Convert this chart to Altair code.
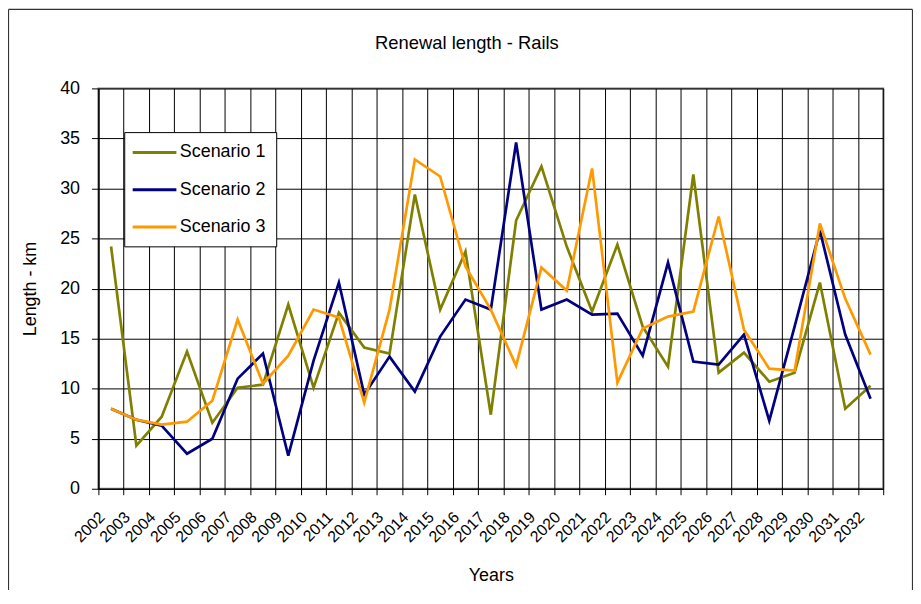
import altair as alt
import pandas as pd

years = [str(y) for y in range(2002, 2033)]
scenario1 = [24.2, 4.3, 7.2, 13.7, 6.6, 10.1, 10.4, 18.4, 10.1, 17.6, 14.1, 13.5, 29.4, 17.9, 23.7, 7.4,
             26.8, 32.2, 24.2, 17.7, 24.4, 16.2, 12.2, 31.4, 11.6, 13.6, 10.7, 11.6, 20.6, 8.0, 10.3]
scenario2 = [8.0, 6.9, 6.3, 3.5, 5.0, 11.0, 13.5, 3.3, 12.8, 20.6, 9.4, 13.2, 9.7, 15.2, 18.9, 17.9,
             34.6, 17.9, 18.9, 17.4, 17.5, 13.3, 22.6, 12.7, 12.4, 15.4, 6.8, 16.2, 25.8, 15.4, 9.0]
scenario3 = [8.0, 6.9, 6.4, 6.7, 8.8, 16.9, 10.5, 13.3, 17.9, 17.1, 8.6, 17.9, 32.9, 31.2, 22.2, 17.9,
             12.3, 22.1, 19.8, 32.0, 10.6, 16.0, 17.2, 17.7, 27.2, 15.9, 12.0, 11.8, 26.5, 19.0, 13.4]
series_names = ["Scenario 1", "Scenario 2", "Scenario 3"]
series_colors = ["#808000", "#000080", "#FF9900"]

rows = []
for name, vals in zip(series_names, [scenario1, scenario2, scenario3]):
    for yr, v in zip(years, vals):
        rows.append({"Year": yr, "Length": v, "Series": name})
df = pd.DataFrame(rows)

FONT = "Liberation Sans"

lines = alt.Chart(df).mark_line(strokeWidth=2.7).encode(
    x=alt.X("Year:O", sort=years,
            scale=alt.Scale(type="band", paddingInner=0, paddingOuter=0),
            axis=alt.Axis(title="Years", tickBand="extent", labelAngle=-45, labelFontSize=16,
                          labelOverlap=False, labelPadding=14, labelOffset=-15, tickSize=6,
                          titlePadding=22, titleFontSize=18, titleFontWeight="normal")),
    y=alt.Y("Length:Q", scale=alt.Scale(domain=[0, 40], nice=False),
            axis=alt.Axis(title="Length - km", values=list(range(0, 41, 5)), tickSize=7,
                          labelFontSize=18, labelPadding=12, titlePadding=20,
                          titleFontSize=18, titleFontWeight="normal")),
    color=alt.Color("Series:N", sort=series_names,
                    scale=alt.Scale(domain=series_names, range=series_colors),
                    legend=alt.Legend(title=None, orient="none", legendX=26, legendY=44,
                                      direction="vertical",
                                      symbolType="M-1.333,0H3.556", symbolSize=324,
                                      symbolStrokeWidth=3, labelFontSize=18, labelOffset=25,
                                      labelLimit=300, rowPadding=17.5, padding=10,
                                      strokeColor="black", fillColor="white")),
)

frame = alt.Chart(pd.DataFrame({"a": [0]})).mark_rule(color="#333333", strokeWidth=1.2).encode(
    x=alt.value(-90.5), x2=alt.value(-90.5), y=alt.value(-79.5), y2=alt.value(520)
) + alt.Chart(pd.DataFrame({"a": [0]})).mark_rule(color="#333333", strokeWidth=1.2).encode(
    x=alt.value(-90.5), x2=alt.value(819.5), y=alt.value(-79.5), y2=alt.value(-79.5)
) + alt.Chart(pd.DataFrame({"a": [0]})).mark_rule(color="#333333", strokeWidth=1.2).encode(
    x=alt.value(819.5), x2=alt.value(819.5), y=alt.value(-79.5), y2=alt.value(520)
)

chart = alt.layer(lines, frame).properties(
    width=790, height=403,
    title=alt.TitleParams("Renewal length - Rails", fontSize=18.5, fontWeight="normal",
                          font=FONT, anchor="middle", frame="group", dx=-24, offset=-44,
                          color="black"),
    autosize=alt.AutoSizeParams(type="none"),
    padding={"left": 91, "top": 79, "right": 30, "bottom": 100},
).configure(font=FONT, background="white").configure_axis(
    labelFont=FONT, titleFont=FONT, labelColor="black", titleColor="black",
    domainColor="black", domainWidth=1.2, tickColor="black", tickWidth=1,
    grid=True, gridColor="black", gridOpacity=1, gridWidth=1,
).configure_view(stroke="#808080", strokeWidth=2).configure_legend(
    labelFont=FONT, labelColor="black"
)

chart.save("out.html", embed_options={"renderer": "svg", "actions": False})
